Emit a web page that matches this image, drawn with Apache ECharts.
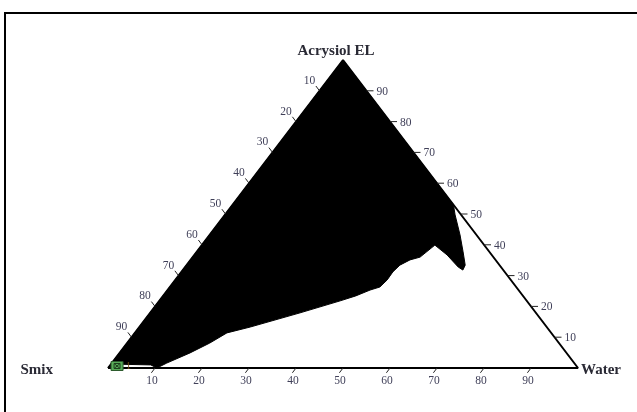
<!DOCTYPE html>
<html><head><meta charset="utf-8">
<script src="https://cdn.jsdelivr.net/npm/echarts@6/dist/echarts.min.js"></script>
<style>html,body{margin:0;padding:0;background:#fff}#c{width:637px;height:412px}</style>
</head><body><div id="c"></div>
<script>
// Vertex names (top, bottom-left, bottom-right)
const vertexNames = ['Acrysiol EL', 'Smix', 'Water'];
// Tick values / labels used on every edge (percent)
const tickValues = [10, 20, 30, 40, 50, 60, 70, 80, 90];
const tickLabels = ['10', '20', '30', '40', '50', '60', '70', '80', '90'];
// Boundary of the black (nanoemulsion) region, in % Water and % Acrysiol EL (Smix = rest)
const boundaryWater =     [0, 2.6, 8.6, 10.4, 11.7, 15.0, 17.6, 19.6, 23.6, 31.9, 38.5, 41.0, 43.1, 44.7, 45.1, 45.0, 45.4, 46.7, 48.4, 49.6, 53.8, 58.1, 59.6, 59.3, 56.7, 53.3, 49.0, 47.0, 0];
const boundaryAcrysiol =  [0, 1.2, 1.0, 0,    1.6,  4.9,  8.1,  11.4, 13.3, 17.9, 21.8, 23.4, 25.3, 26.3, 28.6, 31.2, 33.4, 35.1, 36.0, 39.9, 36.7, 32.8, 31.8, 33.4, 37.7, 43.2, 49.7, 53.0, 100];
// Formulation point
const pointWater = [1.6];
const pointAcrysiol = [0.65];
const pointLabels = ['1'];

function toXY(w, a) { return [w + a / 2, a]; }

const boundaryXY = boundaryWater.map((w, i) => toXY(w, boundaryAcrysiol[i]));
const outline = [toXY(0, 0), toXY(0, 100), toXY(100, 0), toXY(0, 0)];

const tickFont = '11.5px "Liberation Serif", serif';
const tickColor = '#3f3f58';

function tickSeries(data, dx, dy, lx, ly, align) {
  return {
    type: 'custom', coordinateSystem: 'cartesian2d', silent: true, z: 5,
    data: data,
    renderItem: function (params, api) {
      const p = api.coord([api.value(0), api.value(1)]);
      return {
        type: 'group',
        children: [
          { type: 'line', shape: { x1: p[0], y1: p[1], x2: p[0] + dx, y2: p[1] + dy },
            style: { stroke: '#222', lineWidth: 1 } },
          { type: 'text', x: p[0] + lx, y: p[1] + ly,
            style: { text: tickLabels[params.dataIndex], font: tickFont, fill: tickColor,
                     align: align, verticalAlign: 'middle' } }
        ]
      };
    }
  };
}

const smixTicks = tickValues.map(s => toXY(0, 100 - s));
const acrTicks = tickValues.map(a => toXY(100 - a, a));
const waterTicks = tickValues.map(w => toXY(w, 0));

const vertexFont = 'bold 15px "Liberation Serif", serif';

const chart = echarts.init(document.getElementById('c'));
chart.setOption({
  animation: false,
  backgroundColor: '#fff',
  graphic: [{ type: 'rect', shape: { x: 5, y: 13, width: 800, height: 600 },
              style: { fill: 'none', stroke: '#000', lineWidth: 2 }, silent: true }],
  grid: { left: 108, right: 59, top: 60, bottom: 44 },
  xAxis: { type: 'value', min: 0, max: 100, show: false },
  yAxis: { type: 'value', min: 0, max: 100, show: false },
  series: [
    {
      type: 'custom', coordinateSystem: 'cartesian2d', silent: true, z: 2,
      data: [[0, 0]],
      renderItem: function (params, api) {
        return { type: 'polygon', shape: { points: boundaryXY.map(p => api.coord(p)) },
                 style: { fill: '#000', stroke: '#000', lineWidth: 1 } };
      }
    },
    {
      type: 'line', data: outline, symbol: 'none', silent: true, z: 3,
      lineStyle: { color: '#000', width: 2 }
    },
    tickSeries(smixTicks, -3.6, -4.8, -10, -10, 'center'),
    tickSeries(acrTicks, 7, 0, 10, 1, 'left'),
    tickSeries(waterTicks, -3.6, 4.8, -3, 13, 'center'),
    {
      type: 'custom', coordinateSystem: 'cartesian2d', silent: true, z: 6,
      data: [toXY(0, 100), toXY(0, 0), toXY(100, 0)],
      renderItem: function (params, api) {
        const p = api.coord([api.value(0), api.value(1)]);
        const cfg = [[-7, -9, 'center'], [-55, 2, 'right'], [3, 2, 'left']][params.dataIndex];
        return { type: 'text', x: p[0] + cfg[0], y: p[1] + cfg[1],
                 style: { text: vertexNames[params.dataIndex], font: vertexFont, fill: '#2a2a35',
                          align: cfg[2], verticalAlign: 'middle' } };
      }
    },
    {
      type: 'custom', coordinateSystem: 'cartesian2d', silent: true, z: 7,
      data: pointWater.map((w, i) => toXY(w, pointAcrysiol[i])),
      renderItem: function (params, api) {
        const p = api.coord([api.value(0), api.value(1)]);
        const x = p[0] - 6, y = p[1] - 4.5;
        return {
          type: 'group',
          children: [
            { type: 'rect', shape: { x: x, y: y, width: 12, height: 9 },
              style: { fill: '#58ad58', stroke: '#2c5a2c', lineWidth: 1 } },
            { type: 'rect', shape: { x: x + 3, y: y + 2, width: 6, height: 5 },
              style: { fill: 'none', stroke: '#1e3e1e', lineWidth: 1 } },
            { type: 'line', shape: { x1: x + 3, y1: y + 2, x2: x + 9, y2: y + 7 },
              style: { stroke: '#1e3e1e', lineWidth: 1 } },
            { type: 'line', shape: { x1: x + 9, y1: y + 2, x2: x + 3, y2: y + 7 },
              style: { stroke: '#1e3e1e', lineWidth: 1 } },
            { type: 'text', x: p[0] + 9, y: p[1] + 0.5,
              style: { text: pointLabels[params.dataIndex], font: '10px "Liberation Serif", serif',
                       fill: '#6a4a10', align: 'left', verticalAlign: 'middle' } }
          ]
        };
      }
    }
  ]
});
</script></body></html>
